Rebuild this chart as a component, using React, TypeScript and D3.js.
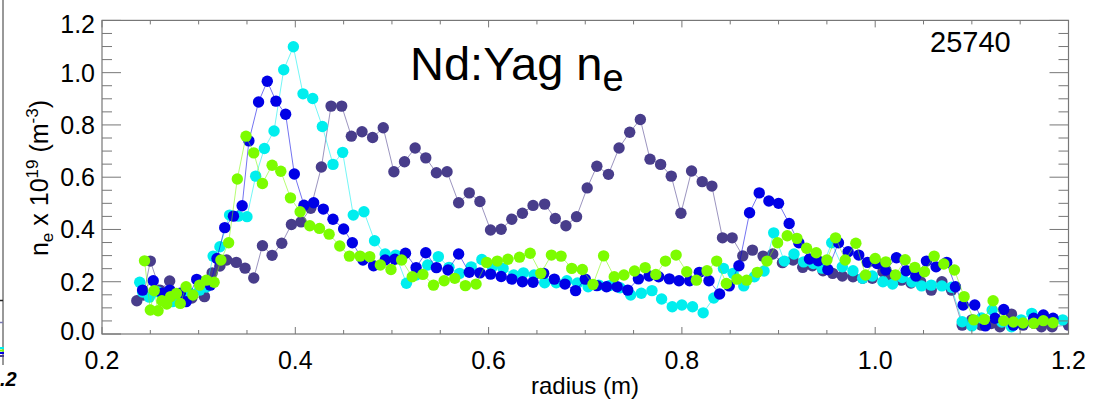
import React from "react";
import * as d3 from "d3";

// ---- data (radius in m, density in 1e19 m^-3) ----
const darkR = [0.236,0.243,0.250,0.260,0.270,0.281,0.293,0.306,0.314,0.322,0.329,0.339,0.348,0.357,0.366,0.376,0.386,0.396,0.406,0.416,0.427,0.437,0.448,0.458,0.469,0.480,0.491,0.502,0.513,0.524,0.535,0.546,0.557,0.569,0.580,0.591,0.602,0.613,0.624,0.635,0.646,0.658,0.669,0.680,0.691,0.702,0.712,0.724,0.735,0.746,0.757,0.767,0.778,0.789,0.799,0.810,0.821,0.831,0.842,0.852,0.863,0.873,0.884,0.894,0.904,0.915,0.925,0.935,0.946,0.956,0.966,0.977,0.987,0.997,1.008,1.017,1.027,1.037,1.047,1.058,1.069,1.079,1.090,1.100,1.110,1.120,1.129,1.141,1.153,1.164,1.172,1.183,1.200];
const darkNe = [0.127,0.149,0.279,0.168,0.203,0.149,0.138,0.143,0.234,0.26,0.283,0.274,0.252,0.214,0.338,0.301,0.347,0.419,0.429,0.481,0.639,0.872,0.872,0.757,0.774,0.752,0.789,0.621,0.659,0.712,0.674,0.617,0.621,0.502,0.540,0.507,0.398,0.401,0.439,0.462,0.492,0.497,0.442,0.414,0.449,0.559,0.642,0.611,0.712,0.772,0.821,0.669,0.649,0.604,0.462,0.624,0.583,0.566,0.368,0.368,0.299,0.321,0.298,0.306,0.273,0.283,0.255,0.261,0.242,0.232,0.222,0.219,0.213,0.213,0.238,0.222,0.206,0.195,0.2,0.168,0.2,0.168,0.034,0.054,0.034,0.04,0.028,0.076,0.034,0.041,0.028,0.028,0.034];

const cyanR = [0.239,0.242,0.249,0.258,0.267,0.273,0.281,0.291,0.301,0.308,0.315,0.322,0.332,0.341,0.350,0.359,0.368,0.378,0.388,0.398,0.408,0.418,0.428,0.439,0.449,0.460,0.471,0.482,0.493,0.504,0.515,0.525,0.537,0.548,0.559,0.570,0.582,0.593,0.604,0.615,0.626,0.636,0.647,0.658,0.670,0.681,0.692,0.703,0.714,0.725,0.736,0.747,0.758,0.769,0.779,0.790,0.800,0.811,0.822,0.833,0.843,0.853,0.864,0.875,0.885,0.895,0.906,0.916,0.926,0.936,0.945,0.955,0.966,0.977,0.987,0.997,1.008,1.018,1.028,1.038,1.048,1.058,1.069,1.079,1.090,1.100,1.110,1.121,1.131,1.141,1.151,1.162,1.173,1.183,1.194];
const cyanNe = [0.198,0.161,0.141,0.161,0.156,0.124,0.141,0.156,0.168,0.18,0.298,0.334,0.455,0.451,0.449,0.604,0.710,0.777,1.011,1.099,0.919,0.901,0.794,0.649,0.695,0.455,0.468,0.357,0.306,0.302,0.194,0.226,0.264,0.296,0.255,0.232,0.257,0.285,0.257,0.251,0.226,0.234,0.226,0.196,0.196,0.204,0.195,0.181,0.187,0.185,0.177,0.149,0.156,0.166,0.134,0.104,0.111,0.104,0.081,0.138,0.251,0.232,0.184,0.219,0.241,0.387,0.279,0.306,0.276,0.270,0.252,0.349,0.257,0.242,0.213,0.222,0.2,0.191,0.216,0.199,0.184,0.187,0.184,0.179,0.047,0.031,0.061,0.092,0.046,0.028,0.054,0.079,0.061,0.054,0.054];

const blueR = [0.242,0.253,0.262,0.270,0.281,0.287,0.298,0.312,0.319,0.327,0.336,0.345,0.352,0.362,0.371,0.380,0.390,0.399,0.409,0.419,0.429,0.439,0.450,0.459,0.470,0.481,0.493,0.503,0.514,0.525,0.535,0.546,0.558,0.569,0.580,0.591,0.602,0.613,0.624,0.635,0.646,0.657,0.668,0.679,0.690,0.700,0.712,0.722,0.733,0.744,0.755,0.766,0.776,0.787,0.797,0.808,0.818,0.828,0.839,0.849,0.859,0.870,0.880,0.890,0.900,0.911,0.921,0.932,0.941,0.951,0.962,0.972,0.983,0.992,1.002,1.011,1.022,1.032,1.042,1.053,1.063,1.074,1.083,1.091,1.103,1.114,1.124,1.133,1.143,1.153,1.164,1.174,1.184];
const blueNe = [0.168,0.204,0.156,0.168,0.156,0.124,0.209,0.187,0.289,0.407,0.451,0.491,0.739,0.888,0.967,0.891,0.841,0.612,0.493,0.502,0.478,0.439,0.402,0.349,0.283,0.261,0.283,0.286,0.309,0.254,0.311,0.254,0.245,0.306,0.236,0.234,0.229,0.220,0.210,0.2,0.198,0.232,0.210,0.191,0.166,0.210,0.185,0.181,0.181,0.168,0.211,0.222,0.219,0.211,0.204,0.204,0.236,0.204,0.153,0.184,0.261,0.464,0.540,0.509,0.5,0.423,0.349,0.287,0.280,0.247,0.349,0.315,0.302,0.274,0.270,0.245,0.292,0.242,0.222,0.279,0.257,0.274,0.181,0.111,0.111,0.031,0.060,0.094,0.034,0.038,0.060,0.073,0.060];

const greenR = [0.244,0.250,0.254,0.258,0.262,0.267,0.271,0.277,0.281,0.287,0.294,0.301,0.308,0.316,0.323,0.331,0.340,0.349,0.357,0.366,0.376,0.385,0.395,0.405,0.415,0.425,0.435,0.446,0.456,0.467,0.477,0.488,0.499,0.510,0.521,0.532,0.543,0.554,0.565,0.576,0.587,0.598,0.609,0.620,0.632,0.643,0.654,0.665,0.675,0.686,0.697,0.708,0.719,0.730,0.740,0.751,0.762,0.773,0.783,0.794,0.805,0.815,0.826,0.836,0.846,0.857,0.867,0.878,0.888,0.899,0.909,0.919,0.929,0.939,0.950,0.959,0.969,0.980,0.990,1.000,1.011,1.021,1.031,1.041,1.051,1.061,1.071,1.082,1.092,1.102,1.113,1.122,1.133,1.143,1.153,1.164,1.174,1.184];
const greenNe = [0.28,0.092,0.166,0.089,0.127,0.115,0.143,0.155,0.117,0.181,0.149,0.187,0.206,0.198,0.283,0.349,0.593,0.757,0.693,0.576,0.646,0.623,0.521,0.468,0.414,0.404,0.382,0.337,0.298,0.298,0.296,0.264,0.247,0.283,0.219,0.228,0.187,0.204,0.213,0.185,0.191,0.274,0.279,0.286,0.294,0.309,0.232,0.302,0.298,0.251,0.247,0.190,0.299,0.219,0.226,0.241,0.254,0.228,0.279,0.302,0.238,0.206,0.242,0.279,0.193,0.210,0.206,0.236,0.279,0.349,0.376,0.366,0.328,0.311,0.283,0.368,0.283,0.347,0.226,0.289,0.276,0.226,0.284,0.255,0.238,0.298,0.268,0.245,0.143,0.054,0.056,0.127,0.051,0.046,0.042,0.041,0.051,0.043];

const xTicks = [0.2, 0.4, 0.6, 0.8, 1.0, 1.2];
const yTicks = [0.0, 0.2, 0.4, 0.6, 0.8, 1.0, 1.2];
const titleText = "Nd:Yag n";
const shotText = "25740";
const xLabel = "radius (m)";

const series = [
  { r: darkR, ne: darkNe, color: "#483D8B" },
  { r: cyanR, ne: cyanNe, color: "#00EEEE" },
  { r: blueR, ne: blueNe, color: "#0000E6" },
  { r: greenR, ne: greenNe, color: "#7CFC00" },
];

export default function App() {
  const W = 1096, H = 411;
  const L = 102, R = 1068.5, T = 20.4, B = 334;
  const x = d3.scaleLinear().domain([0.2, 1.2]).range([L, R]);
  const y = d3.scaleLinear().domain([0, 1.2]).range([B, T]);
  const line = d3.line<[number, number]>().x(d => x(d[0])).y(d => y(d[1]));
  const fmt = d3.format(".1f");
  const axis = "#777";
  const xMinor = d3.range(0, 21).map(i => 0.2 + i * 0.05);
  const yMinor = d3.range(0, 25).map(i => i * 0.05);
  const font = "'Liberation Sans', Arial, Helvetica, sans-serif";
  const yLabelShift = (v: number) => (v === 1.2 ? 4 : v === 0 ? -3 : 0);

  return (
    <svg width={W} height={H} style={{ position: "absolute", left: 0, top: 0, background: "#fff" }} fontFamily={font}>
      <defs>
        <clipPath id="plotclip">
          <rect x={L} y={T} width={R - L} height={B - T} />
        </clipPath>
      </defs>
      <rect x={0} y={0} width={W} height={H} fill="#fff" />

      {/* fragment of neighbouring panel */}
      <line x1={3} y1={0} x2={3} y2={365} stroke="#333" strokeWidth={1} />
      <line x1={0} y1={300.5} x2={3} y2={300.5} stroke="#222" strokeWidth={1.5} />
      <line x1={0} y1={322.5} x2={3} y2={322.5} stroke="#7a7ab0" strokeWidth={1.5} />
      <line x1={0} y1={348} x2={4} y2={348} stroke="#00EEEE" strokeWidth={2} />
      <line x1={0} y1={350.5} x2={4} y2={350.5} stroke="#7CFC00" strokeWidth={2} />
      <line x1={0} y1={353} x2={4} y2={353} stroke="#0000E6" strokeWidth={2} />
      <line x1={0} y1={356} x2={4} y2={356} stroke="#483D8B" strokeWidth={2} />
      <text x={0} y={386} fontSize={20} fontWeight="bold" fontStyle="italic" fill="#000">.2</text>

      {/* data */}
      <g clipPath="url(#plotclip)">
        {series.map((s, si) => {
          const pts: [number, number][] = s.r.map((r, i) => [r, s.ne[i]]);
          return (
            <g key={si}>
              <path d={line(pts) || ""} fill="none" stroke={s.color} strokeOpacity={0.55} strokeWidth={1} />
              {pts.map((p, i) => (
                <circle key={i} cx={x(p[0])} cy={y(p[1])} r={5.7} fill={s.color} />
              ))}
            </g>
          );
        })}
      </g>

      {/* axes box */}
      <rect x={L} y={T} width={R - L} height={B - T} fill="none" stroke={axis} strokeWidth={1.2} />
      {xMinor.map((v, i) => {
        const major = i % 4 === 0;
        const len = major ? 7 : 4;
        const px = x(v);
        return (
          <g key={"xt" + i}>
            <line x1={px} x2={px} y1={B} y2={B - len} stroke={axis} strokeWidth={1} />
            <line x1={px} x2={px} y1={T} y2={T + len} stroke={axis} strokeWidth={1} />
          </g>
        );
      })}
      {yMinor.map((v, i) => {
        const major = i % 4 === 0;
        const len = major ? 19 : 10;
        const py = y(v);
        return (
          <g key={"yt" + i}>
            <line x1={L} x2={L + len} y1={py} y2={py} stroke={axis} strokeWidth={1} />
            <line x1={R} x2={R - len} y1={py} y2={py} stroke={axis} strokeWidth={1} />
          </g>
        );
      })}

      {/* tick labels */}
      {yTicks.map(v => (
        <text key={"yl" + v} x={95} y={y(v) + 9 + yLabelShift(v)} textAnchor="end" fontSize={25} fill="#000">{fmt(v)}</text>
      ))}
      {xTicks.map(v => (
        <text key={"xl" + v} x={x(v)} y={368.5} textAnchor="middle" fontSize={25} fill="#000">{fmt(v)}</text>
      ))}

      {/* axis titles */}
      <text x={585} y={394} textAnchor="middle" fontSize={24} fill="#000">{xLabel}</text>
      <text transform="translate(48,178) rotate(-90)" textAnchor="middle" fontSize={25} fill="#000">
        n<tspan fontSize={17} dy={5}>e</tspan>
        <tspan dy={-5}> x 10</tspan>
        <tspan fontSize={17} dy={-10}>19</tspan>
        <tspan dy={10}> (m</tspan>
        <tspan fontSize={17} dy={-10}>-3</tspan>
        <tspan dy={10}>)</tspan>
      </text>

      {/* title and shot number */}
      <text x={410} y={80} fontSize={47} fill="#000">
        {titleText}<tspan fontSize={38} dy={11}>e</tspan>
      </text>
      <text x={930} y={51.7} fontSize={29} fill="#000">{shotText}</text>
    </svg>
  );
}
